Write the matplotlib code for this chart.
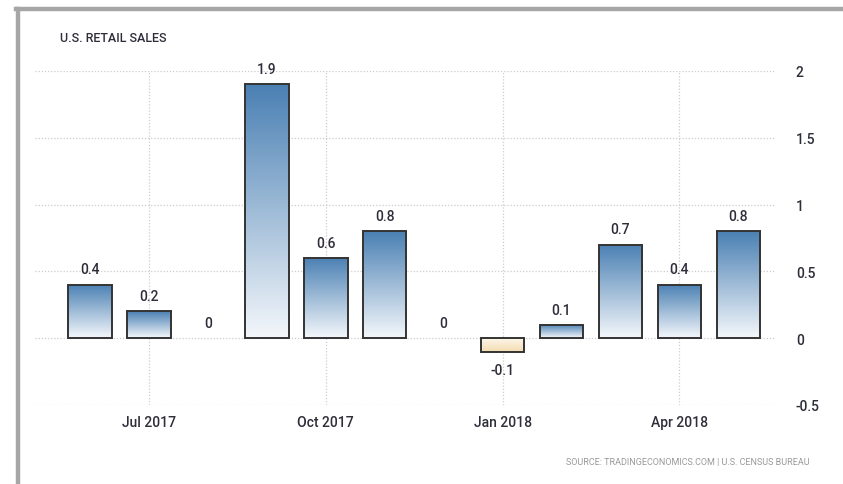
import matplotlib
matplotlib.use("Agg")
import matplotlib.pyplot as plt
import numpy as np
from matplotlib.colors import LinearSegmentedColormap
from matplotlib.patches import Rectangle

months = ["Jun 2017", "Jul 2017", "Aug 2017", "Sep 2017", "Oct 2017", "Nov 2017",
          "Dec 2017", "Jan 2018", "Feb 2018", "Mar 2018", "Apr 2018", "May 2018"]
values = [0.4, 0.2, 0.0, 1.9, 0.6, 0.8, 0.0, -0.1, 0.1, 0.7, 0.4, 0.8]
value_labels = ["0.4", "0.2", "0", "1.9", "0.6", "0.8", "0", "-0.1", "0.1", "0.7", "0.4", "0.8"]
xtick_labels = ["Jul 2017", "Oct 2017", "Jan 2018", "Apr 2018"]
yticks = [-0.5, 0, 0.5, 1, 1.5, 2]
ytick_labels = ["-0.5", "0", "0.5", "1", "1.5", "2"]

plt.rcParams['font.family'] = ['Roboto', 'DejaVu Sans']

W, H = 843, 485
fig = plt.figure(figsize=(W / 100, H / 100), dpi=100)

# outer gray frame (top and left)
fig.add_artist(plt.Line2D([18 / W, 18 / W], [0, 1 - 10 / H], transform=fig.transFigure,
                          color="#a6a6a6", lw=3.2))
fig.add_artist(plt.Line2D([16.4 / W, 1], [1 - 10 / H, 1 - 10 / H], transform=fig.transFigure,
                          color="#a6a6a6", lw=3.2))

left, right, top, bottom = 35, 775, 72, 406
ax = fig.add_axes([left / W, (H - bottom) / H, (right - left) / W, (bottom - top) / H])

x = np.arange(len(values))
bw = 0.74
xlim = (-0.93, 11.62)
ylim = (-0.5, 2)

pos_cmap = LinearSegmentedColormap.from_list("pos", ["#f4f7fb", "#4a80b3"])
neg_cmap = LinearSegmentedColormap.from_list("neg", ["#fdf6ea", "#f4dcb0"])
grad = np.linspace(0, 1, 256).reshape(-1, 1)

txt_color = "#2e2e3a"
for xi, v, lab in zip(x, values, value_labels):
    if v != 0:
        if v > 0:
            img = ax.imshow(grad, cmap=pos_cmap, origin="lower", aspect="auto",
                            extent=[xi - bw / 2, xi + bw / 2, 0, v], zorder=2)
        else:
            img = ax.imshow(grad, cmap=neg_cmap, origin="upper", aspect="auto",
                            extent=[xi - bw / 2, xi + bw / 2, v, 0], zorder=2)
        rect = Rectangle((xi - bw / 2, min(0, v)), bw, abs(v), facecolor="none",
                         edgecolor="#333333", lw=1.4, zorder=3)
        ax.add_patch(rect)
        img.set_clip_path(rect)
    kw = dict(ha="center", fontsize=10, color=txt_color, fontweight="medium",
              textcoords="offset points")
    if v > 0:
        ax.annotate(lab, (xi, v), xytext=(0, 6), va="bottom", **kw)
    elif v < 0:
        ax.annotate(lab, (xi, v), xytext=(0, -8), va="top", **kw)
    else:
        ax.annotate(lab, (xi, v), xytext=(0, 6), va="bottom", **kw)

ax.set_xlim(*xlim)
ax.set_ylim(*ylim)

tick_pos = [months.index(m) for m in xtick_labels]
ax.set_xticks(tick_pos)
ax.set_xticklabels(xtick_labels, fontsize=10, color=txt_color, fontweight="medium")
ax.set_yticks(yticks)
ax.set_yticklabels(ytick_labels, fontsize=10, color=txt_color, fontweight="medium")
ax.yaxis.tick_right()
ax.tick_params(axis="both", length=0)
ax.tick_params(axis="y", pad=15)
ax.tick_params(axis="x", pad=7.5)
for s in ax.spines.values():
    s.set_visible(False)
ax.grid(True, linestyle=(0, (1, 1.5)), color="#cccccc", lw=0.9, zorder=0)
ax.set_axisbelow(True)

fig.text(60 / W, 1 - 38.5 / H, "U.S. RETAIL SALES", fontsize=9, color=txt_color,
         fontweight="medium", ha="left", va="center")
fig.text(810 / W, 1 - 463 / H, "SOURCE: TRADINGECONOMICS.COM | U.S. CENSUS BUREAU",
         fontsize=6.5, color="#999999", ha="right", va="center")

fig.savefig("out.png", dpi=100)
